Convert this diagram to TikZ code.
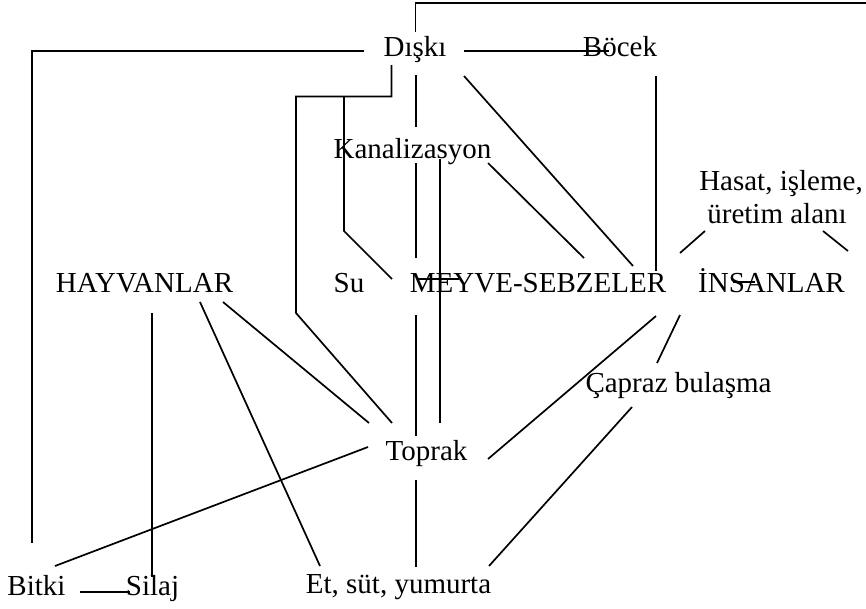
\documentclass[tikz,border=0pt]{standalone}
\usepackage{fontspec}
\setmainfont{Liberation Serif}
\begin{document}
\begin{tikzpicture}[x=1pt,y=-1pt,
  lbl/.style={inner sep=0pt, anchor=base, font=\rmfamily\fontsize{29}{33}\selectfont},
  link/.style={line width=1.7pt, line cap=butt, line join=miter}]
\useasboundingbox (0,0) rectangle (866,608);

% labels
\node[lbl] (diski)  at (415,56)    {Dışkı};
\node[lbl] (bocek)  at (620,56)    {Böcek};
\node[lbl] (kanal)  at (412.5,158) {Kanalizasyon};
\node[lbl] (hasat)  at (781,190)   {Hasat, işleme,};
\node[lbl] (hasatb) at (777,223)   {üretim alanı};
\node[lbl] (hayvan) at (144.5,292) {HAYVANLAR};
\node[lbl] (su)     at (349,292)   {Su};
\node[lbl] (meyve)  at (538,292)   {MEYVE-SEBZELER};
\node[lbl] (insan)  at (771.5,292) {İNSANLAR};
\node[lbl] (capraz) at (678.5,392) {Çapraz bulaşma};
\node[lbl] (toprak) at (426.5,460) {Toprak};
\node[lbl] (bitki)  at (36.5,595)  {Bitki};
\node[lbl] (silaj)  at (152.5,595) {Silaj};
\node[lbl] (et)     at (398.5,593) {Et, süt, yumurta};

% connector end points
\coordinate (dTop)  at (415.6,32);
\coordinate (dTopA) at (415.6,3);
\coordinate (dTopB) at (866,3);
\coordinate (dL)    at (364,51);
\coordinate (dLa)   at (32,51);
\coordinate (bT)    at (32,543);
\coordinate (dR)    at (464,51);
\coordinate (bL)    at (609,51);
\coordinate (dB)    at (391.5,65);
\coordinate (dBa)   at (391.5,96.5);
\coordinate (dBb)   at (296,96.5);
\coordinate (dBc)   at (296,313);
\coordinate (tNW)   at (392,423);
\coordinate (sA)    at (344,96.5);
\coordinate (sB)    at (344,231);
\coordinate (mW)    at (392,279);
\coordinate (mBarA) at (417,279);
\coordinate (mBarB) at (459,279);
\coordinate (dS)    at (416,75);
\coordinate (kN)    at (416,127);
\coordinate (kS)    at (416,163);
\coordinate (mN)    at (416,258);
\coordinate (mS)    at (416,315);
\coordinate (tN)    at (416,436);
\coordinate (tS)    at (416,480);
\coordinate (eN)    at (416,567);
\coordinate (kS2)   at (440,159);
\coordinate (tN2)   at (440,423);
\coordinate (dSE)   at (464,76);
\coordinate (mN2)   at (633,266);
\coordinate (kSE)   at (488,163);
\coordinate (mN3)   at (584,258);
\coordinate (bS)    at (656,76);
\coordinate (mNE)   at (656,271);
\coordinate (hSW)   at (705,231);
\coordinate (mNE2)  at (680,253);
\coordinate (hSE)   at (823,231);
\coordinate (iNE)   at (848,251);
\coordinate (iBarA) at (733,282);
\coordinate (iBarB) at (755,282);
\coordinate (mSE)   at (656,316);
\coordinate (tE)    at (488,459);
\coordinate (iSW)   at (680,315);
\coordinate (cN)    at (657,363);
\coordinate (cSW)   at (632,407);
\coordinate (eNE)   at (489,566);
\coordinate (hSE2)  at (223,302);
\coordinate (tW)    at (369,423);
\coordinate (hS)    at (200,302);
\coordinate (eNW)   at (320,566);
\coordinate (hS2)   at (152,313);
\coordinate (sN)    at (152,577);
\coordinate (bNE)   at (55,566);
\coordinate (tW2)   at (368,447);
\coordinate (bE)    at (80,592);
\coordinate (sW)    at (130,592);

% connectors
\draw[link] (dTop) -- (dTopA) -- (dTopB);
\draw[link] (dL) -- (dLa) -- (bT);
\draw[link] (dR) -- (bL);
\draw[link] (dB) -- (dBa) -- (dBb) -- (dBc) -- (tNW);
\draw[link] (sA) -- (sB) -- (mW);
\draw[link] (mBarA) -- (mBarB);
\draw[link] (dS) -- (kN);
\draw[link] (kS) -- (mN);
\draw[link] (mS) -- (tN);
\draw[link] (tS) -- (eN);
\draw[link] (kS2) -- (tN2);
\draw[link] (dSE) -- (mN2);
\draw[link] (kSE) -- (mN3);
\draw[link] (bS) -- (mNE);
\draw[link] (hSW) -- (mNE2);
\draw[link] (hSE) -- (iNE);
\draw[link] (iBarA) -- (iBarB);
\draw[link] (mSE) -- (tE);
\draw[link] (iSW) -- (cN);
\draw[link] (cSW) -- (eNE);
\draw[link] (hSE2) -- (tW);
\draw[link] (hS) -- (eNW);
\draw[link] (hS2) -- (sN);
\draw[link] (bNE) -- (tW2);
\draw[link] (bE) -- (sW);
\end{tikzpicture}
\end{document}
